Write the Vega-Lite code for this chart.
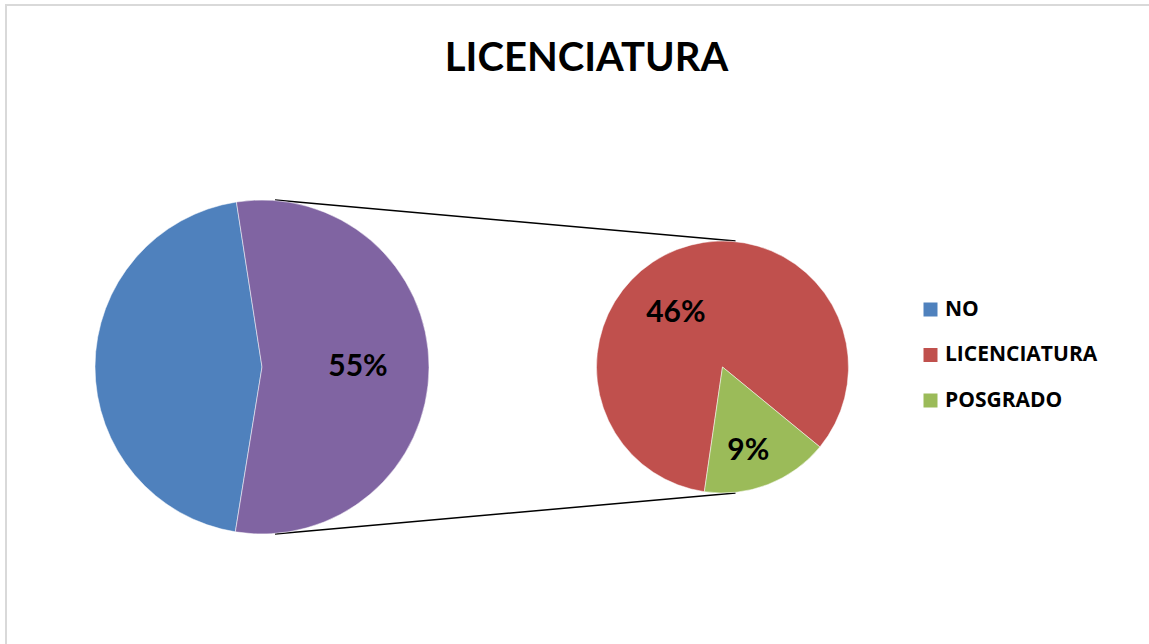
{
  "$schema": "https://vega.github.io/schema/vega-lite/v6.json",
  "width": 1161,
  "height": 724,
  "autosize": {"type": "none"},
  "padding": {"left": 6, "top": 5, "right": -18, "bottom": -85},
  "background": "white",
  "config": {"view": {"stroke": "#d9d9d9", "strokeWidth": 2}, "font": "Lato"},
  "title": {"text": "LICENCIATURA", "font": "Lato", "fontSize": 40, "fontWeight": "bold", "color": "black", "anchor": "middle", "frame": "group", "baseline": "alphabetic", "offset": -106},
  "datasets": {
    "main": [
      {"pie": "main", "slice": "NO", "value": 0.45},
      {"pie": "main", "slice": "OTROS", "value": 0.55}
    ],
    "sub": [
      {"pie": "sub", "slice": "LICENCIATURA", "value": 0.46},
      {"pie": "sub", "slice": "POSGRADO", "value": 0.09}
    ],
    "connectors": [
      {"edge": "top", "pie": "main"},
      {"edge": "top", "pie": "sub"},
      {"edge": "bottom", "pie": "main"},
      {"edge": "bottom", "pie": "sub"}
    ]
  },
  "layer": [
    {
      "data": {"name": "connectors"},
      "transform": [{"filter": "datum.edge === 'top'"}],
      "mark": {"type": "line", "color": "black", "strokeWidth": 1.5, "xOffset": 13},
      "encoding": {
        "x": {"field": "pie", "type": "nominal", "scale": {"type": "point", "domain": ["main", "sub"], "range": [256, 716.5], "padding": 0}, "axis": null},
        "y": {"field": "pie", "type": "nominal", "scale": {"type": "point", "domain": ["main", "sub"], "range": [195, 236], "padding": 0}, "axis": null}
      }
    },
    {
      "data": {"name": "connectors"},
      "transform": [{"filter": "datum.edge === 'bottom'"}],
      "mark": {"type": "line", "color": "black", "strokeWidth": 1.5, "xOffset": 13},
      "encoding": {
        "x": {"field": "pie", "type": "nominal", "scale": {"type": "point", "domain": ["main", "sub"], "range": [256, 716.5], "padding": 0}, "axis": null},
        "y": {"field": "pie", "type": "nominal", "scale": {"type": "point", "domain": ["main", "sub"], "range": [529, 488], "padding": 0}, "axis": null}
      }
    },
    {
      "data": {"name": "main"},
      "encoding": {
        "x": {"field": "pie", "type": "nominal", "scale": {"type": "point", "domain": ["main", "sub"], "range": [256, 716.5], "padding": 0}, "axis": null},
        "theta": {"field": "value", "type": "quantitative", "stack": true, "scale": {"range": [3.302, 9.585], "zero": true, "nice": false}},
        "order": {"field": "value", "type": "quantitative", "sort": "ascending"}
      },
      "layer": [
        {
          "mark": {"type": "arc", "outerRadius": 167, "stroke": "white", "strokeWidth": 0.5},
          "encoding": {
            "color": {
              "condition": {"test": "datum.slice === 'OTROS'", "value": "#8064A2"},
              "field": "slice", "type": "nominal",
              "scale": {"domain": ["NO", "LICENCIATURA", "POSGRADO"], "range": ["#4F81BD", "#C0504D", "#9BBB59"]},
              "legend": {"orient": "none", "legendX": 914, "legendY": 294, "title": null, "symbolType": "square", "symbolSize": 196, "symbolStrokeWidth": 0, "labelFont": "Open Sans", "labelFontWeight": "bold", "labelFontSize": 21, "labelColor": "black", "rowPadding": 23.5, "labelOffset": 4, "padding": 0}
            }
          }
        },
        {
          "mark": {"type": "text", "radius": 96, "font": "Lato", "fontWeight": "bold", "fontSize": 30, "color": "black"},
          "encoding": {
            "text": {"field": "value", "type": "quantitative", "format": ".0%"},
            "detail": {"field": "slice"},
            "opacity": {"condition": {"test": "datum.slice === 'OTROS'", "value": 1}, "value": 0}
          }
        }
      ]
    },
    {
      "data": {"name": "sub"},
      "encoding": {
        "x": {"field": "pie", "type": "nominal", "scale": {"type": "point", "domain": ["main", "sub"], "range": [256, 716.5], "padding": 0}, "axis": null},
        "theta": {"field": "value", "type": "quantitative", "stack": true, "scale": {"range": [2.258, 8.541], "zero": true, "nice": false}},
        "order": {"field": "value", "type": "quantitative", "sort": "ascending"}
      },
      "layer": [
        {
          "mark": {"type": "arc", "outerRadius": 126, "stroke": "white", "strokeWidth": 0.5},
          "encoding": {
            "color": {
              "field": "slice", "type": "nominal",
              "scale": {"domain": ["NO", "LICENCIATURA", "POSGRADO"], "range": ["#4F81BD", "#C0504D", "#9BBB59"]}
            }
          }
        },
        {
          "mark": {"type": "text", "radius": 71, "dx": -21, "dy": 12, "font": "Lato", "fontWeight": "bold", "fontSize": 30, "color": "black"},
          "encoding": {
            "text": {"field": "value", "type": "quantitative", "format": ".0%"},
            "detail": {"field": "slice"},
            "opacity": {"condition": {"test": "datum.slice === 'LICENCIATURA'", "value": 1}, "value": 0}
          }
        },
        {
          "mark": {"type": "text", "radius": 88, "dx": -6, "dy": 2, "font": "Lato", "fontWeight": "bold", "fontSize": 30, "color": "black"},
          "encoding": {
            "text": {"field": "value", "type": "quantitative", "format": ".0%"},
            "detail": {"field": "slice"},
            "opacity": {"condition": {"test": "datum.slice === 'POSGRADO'", "value": 1}, "value": 0}
          }
        }
      ]
    }
  ],
  "resolve": {"scale": {"theta": "independent", "y": "independent"}}
}
